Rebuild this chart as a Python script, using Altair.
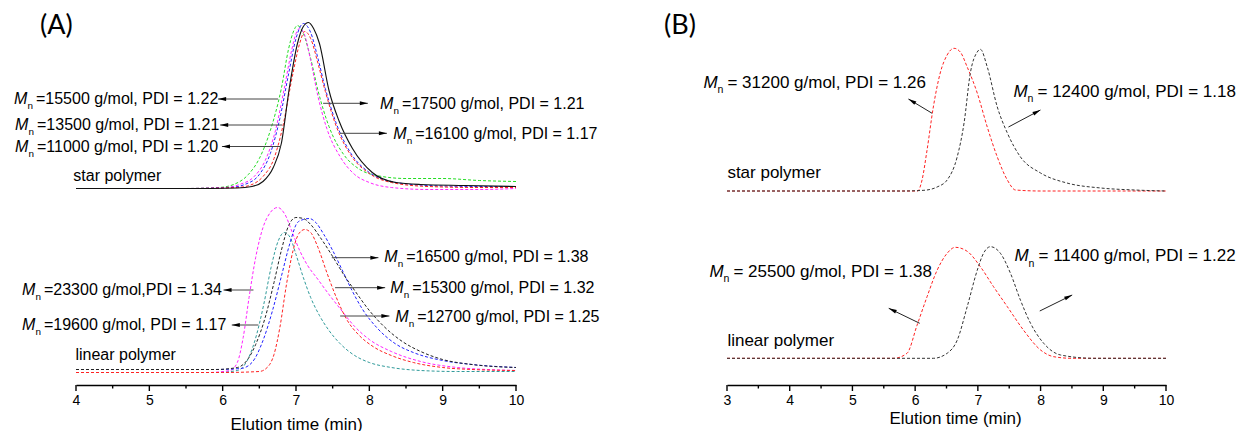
import math
import altair as alt
import pandas as pd

W, H = 1238, 431
AXIS_Y = 385          # pixel row of both x axes (y value 0 of the intensity scale)

# ---------------- Panel A : star polymers (intensity above baseline, a.u.) ----------------
A_STAR_BASE = 196.5
a_star_black_t = [4.0, 5.5, 6.2, 6.4, 6.55, 6.69, 6.8, 6.91, 7.02, 7.1, 7.17, 7.24, 7.32, 7.45, 7.59, 7.77, 8.04, 8.36, 8.7, 9.3, 10.0]
a_star_black_h = [0, 0, 0.5, 2, 7, 21, 45, 101, 145, 162, 166, 160, 145, 98, 67, 40, 16, 6, 4, 3, 2]
a_star_green_t = [4.0, 5.5, 5.95, 6.15, 6.35, 6.5, 6.65, 6.8, 6.9, 6.96, 7.02, 7.1, 7.2, 7.3, 7.45, 7.65, 7.85, 8.1, 8.5, 9.0, 9.5, 10.0]
a_star_green_h = [0, 0, 1, 4, 14, 30, 58, 100, 140, 156, 163, 155, 130, 98, 62, 34, 20, 13, 10, 10, 8, 7]
a_star_magenta_t = [4.0, 5.5, 6.03, 6.23, 6.43, 6.58, 6.72, 6.84, 6.94, 7.0, 7.05, 7.12, 7.2, 7.3, 7.42, 7.6, 7.8, 8.0, 8.3, 8.8, 9.5, 10.0]
a_star_magenta_h = [0, 0, 1, 4, 12, 28, 58, 100, 138, 155, 160, 153, 128, 92, 60, 32, 14, 6, 1, -1, -1, 0]
a_star_blue_t = [4.0, 5.5, 6.1, 6.3, 6.5, 6.65, 6.78, 6.9, 7.0, 7.1, 7.2, 7.3, 7.4, 7.55, 7.75, 8.0, 8.3, 8.8, 9.5, 10.0]
a_star_blue_h = [0, 0, 1, 4, 14, 35, 70, 115, 150, 165, 156, 130, 100, 65, 35, 16, 7, 3, 2, 2]
a_star_red_t = [4.0, 5.5, 6.2, 6.4, 6.55, 6.7, 6.82, 6.95, 7.05, 7.12, 7.2, 7.3, 7.4, 7.55, 7.75, 8.0, 8.3, 8.8, 9.5, 10.0]
a_star_red_h = [0, 0, 1, 4, 12, 30, 62, 112, 145, 157, 150, 125, 97, 62, 33, 15, 6, 2, 1, 1]

# ---------------- Panel A : linear polymers ----------------
A_LIN_BASE = 12.5
a_lin_magenta_t = [4.0, 5.8, 6.1, 6.2, 6.28, 6.36, 6.45, 6.55, 6.65, 6.75, 6.85, 6.95, 7.05, 7.15, 7.3, 7.45, 7.6, 7.8, 8.0, 8.3, 8.7, 9.2, 9.6, 10.0]
a_lin_magenta_h = [0, 0, 2, 10, 35, 75, 115, 145, 160, 165, 158, 140, 122, 108, 93, 78, 64, 46, 33, 21, 11, 5, 3, 2]
a_lin_black_t = [4.0, 5.9, 6.2, 6.35, 6.45, 6.58, 6.7, 6.8, 6.9, 7.0, 7.1, 7.2, 7.35, 7.5, 7.65, 7.8, 8.0, 8.2, 8.45, 8.7, 9.0, 9.4, 10.0]
a_lin_black_h = [3, 3, 5, 14, 28, 55, 90, 122, 147, 155, 154, 148, 133, 116, 98, 82, 62, 46, 31, 21, 13, 8, 5]
a_lin_blue_t = [4.0, 5.9, 6.25, 6.4, 6.55, 6.68, 6.8, 6.92, 7.02, 7.1, 7.18, 7.27, 7.38, 7.5, 7.62, 7.75, 7.9, 8.1, 8.35, 8.6, 9.0, 9.4, 10.0]
a_lin_blue_h = [3, 3, 4, 10, 32, 62, 96, 130, 150, 153, 154, 150, 138, 122, 104, 84, 64, 45, 29, 20, 12, 8, 5]
a_lin_teal_t = [4.0, 5.9, 6.2, 6.32, 6.44, 6.56, 6.66, 6.76, 6.84, 6.92, 7.0, 7.1, 7.2, 7.32, 7.45, 7.6, 7.8, 8.0, 8.3, 8.7, 9.2, 10.0]
a_lin_teal_h = [0, 0, 2, 10, 32, 68, 105, 132, 140, 135, 118, 95, 75, 57, 42, 29, 17, 10, 5, 2, 1, 1]
a_lin_red_t = [4.0, 6.0, 6.5, 6.62, 6.7, 6.78, 6.87, 6.96, 7.04, 7.12, 7.2, 7.3, 7.42, 7.55, 7.7, 7.85, 8.05, 8.3, 8.6, 9.0, 9.4, 10.0]
a_lin_red_h = [0, 0, 1, 6, 18, 45, 88, 122, 139, 143, 140, 125, 100, 75, 52, 38, 26, 17, 10, 5, 3, 2]

# ---------------- Panel B ----------------
B_STAR_BASE = 194
b_star_red_t = [3.0, 5.5, 6.04, 6.11, 6.19, 6.29, 6.4, 6.51, 6.62, 6.72, 6.83, 6.99, 7.15, 7.31, 7.47, 7.6, 8.0, 10.0]
b_star_red_h = [0, 0, 0, 11, 41, 84, 118, 136, 142.7, 139, 124, 98, 64, 34, 11, 1, 0, 0]
b_star_black_t = [3.0, 5.8, 6.14, 6.35, 6.51, 6.67, 6.78, 6.88, 6.99, 7.04, 7.15, 7.31, 7.47, 7.68, 8.0, 8.42, 8.96, 9.5, 10.0]
b_star_black_h = [0, 0, 0.7, 4, 11, 34, 68, 118, 139, 141.7, 124, 84, 58, 34, 18, 8, 3, 1, 0]
B_LIN_BASE = 26.7
b_lin_red_t = [3.0, 5.5, 5.66, 5.87, 6.03, 6.19, 6.35, 6.51, 6.64, 6.83, 7.04, 7.25, 7.47, 7.73, 8.0, 8.21, 8.5, 10.0]
b_lin_red_h = [0, 0, 0, 5, 33, 61.6, 88, 105, 111, 107, 91.6, 71.6, 51.6, 28, 8.3, 1.6, 0, 0]
b_lin_black_t = [3.0, 6.0, 6.29, 6.51, 6.67, 6.83, 6.99, 7.09, 7.2, 7.36, 7.52, 7.68, 7.84, 8.05, 8.32, 8.85, 10.0]
b_lin_black_h = [0, 0, 0, 5, 18, 51.6, 88, 105, 111.6, 105, 85, 58, 35, 15, 3.3, 0, 0]

# ---------------- axis ticks (major every 1 min, minor every 0.5 min) ----------------
a_major_ticks = [4, 5, 6, 7, 8, 9, 10]
a_minor_ticks = [4.5, 5.5, 6.5, 7.5, 8.5, 9.5]
b_major_ticks = [3, 4, 5, 6, 7, 8, 9, 10]
b_minor_ticks = [3.5, 4.5, 5.5, 6.5, 7.5, 8.5, 9.5]

# ---------------- annotations (M_n labels, arrows, captions) ----------------
a_lab_t = [3.154, 3.168, 3.168, 8.147, 8.325, 3.263, 3.263, 8.202, 8.284, 8.352]
a_lab_v = [286, 260, 238, 281.5, 251.5, 95, 60, 128.5, 97.5, 68.5]
a_lab_rest = ["=15500 g/mol, PDI = 1.22", "=13500 g/mol, PDI = 1.21", "=11000 g/mol, PDI = 1.20",
              "=17500 g/mol, PDI = 1.21", "=16100 g/mol, PDI = 1.17", "=23300 g/mol,PDI = 1.34",
              "=19600 g/mol, PDI = 1.17", "=16500 g/mol, PDI = 1.38", "=15300 g/mol, PDI = 1.32",
              "=12700 g/mol, PDI = 1.25"]
a_arr_t1 = [6.756, 6.81, 6.793, 7.37, 7.60, 6.42, 6.487, 7.488, 7.533, 7.602]
a_arr_t2 = [5.937, 5.965, 5.99, 7.98, 8.24, 6.011, 6.124, 8.124, 8.216, 8.274]
a_arr_v1 = [286, 260, 238.5, 281.7, 251.7, 95, 60, 127.3, 97.3, 69]
a_arr_v2 = a_arr_v1

b_lab_t = [2.624, 7.568, 2.719, 7.584]
b_lab_v = [302.3, 293.3, 113.3, 129]
b_lab_rest = ["= 31200 g/mol, PDI = 1.26", "= 12400 g/mol, PDI = 1.18",
              "= 25500 g/mol, PDI = 1.38", "= 11400 g/mol, PDI = 1.22"]
b_arr_t1 = [6.271, 7.488, 6.073, 7.987]
b_arr_t2 = [5.893, 7.998, 5.579, 8.504]
b_arr_v1 = [271.7, 258, 61.7, 74]
b_arr_v2 = [286, 275, 76.7, 90]

a_cap_t = [3.963, 3.992, 3.51]
a_cap_v = [209, 30, 359]
a_cap_text = ["star polymer", "linear polymer", "(A)"]
b_cap_t = [3.006, 3.006, 1.997]
b_cap_v = [211.7, 44.3, 359]
b_cap_text = ["star polymer", "linear polymer", "(B)"]

A_DOMAIN, A_RANGE = [4, 10], [76, 516]
B_DOMAIN, B_RANGE = [3, 10], [727, 1166]

FONT = "Liberation Sans"
ARROW = "M0,0L0.42,1.7L-0.42,1.7Z"
MAJOR_LEN, MINOR_LEN = 6, 3.5


def curves(spec):
    rows = []
    for cid, ts, hs, base, color in spec:
        for t, h in zip(ts, hs):
            rows.append(dict(id=cid, t=t, v=base + h, color=color))
    return pd.DataFrame(rows)


def arrows(t1, t2, v1, v2, ppu):
    lines, heads = [], []
    for a, b, c, d in zip(t1, t2, v1, v2):
        dx = (b - a) * ppu
        dy = -(d - c)
        ang = math.degrees(math.atan2(dx, -dy)) % 360
        lines.append(dict(t=a, t2=b, v=c, v2=d))
        heads.append(dict(t=b, v=d, ang=ang))
    return pd.DataFrame(lines), pd.DataFrame(heads)


def tick_df(major, minor):
    rows = [dict(t=float(t), v=0.0, vend=-MAJOR_LEN) for t in major]
    rows += [dict(t=float(t), v=0.0, vend=-MINOR_LEN) for t in minor]
    return pd.DataFrame(rows)


def panel(dashed_df, solid_df, lab_df, arr, cap_df, ticks_df, domain, rng, fsize, rest_dx, n_dx,
          title_pad, title_x, arrow_color):
    arr_lines, arr_heads = arr
    axis_kw = dict(
        values=sorted(ticks_df.t.tolist()), orient="bottom", offset=AXIS_Y - H,
        ticks=True, tickSize=MAJOR_LEN, tickOpacity=0,
        labelExpr="datum.value % 1 === 0 ? format(datum.value, 'd') : ''",
        domainColor="black", domainWidth=1.5,
        labelFont=FONT, labelFontSize=14, labelColor="black", labelPadding=2,
        labelFlush=False, labelOverlap=False, grid=False,
        title="Elution time (min)", titleFont=FONT, titleFontSize=17,
        titleFontWeight="normal", titleColor="black", titlePadding=title_pad,
    )
    if title_x is not None:
        axis_kw["titleX"] = title_x
    xs = alt.Scale(domain=domain, range=rng, nice=False, zero=False)
    ys = alt.Scale(domain=[AXIS_Y - H, AXIS_Y], nice=False, zero=False)
    x = alt.X("t:Q", scale=xs, axis=alt.Axis(**axis_kw))
    y = alt.Y("v:Q", scale=ys, axis=None)

    layers = [
        alt.Chart(dashed_df).mark_line(strokeWidth=1, strokeDash=[3, 2], interpolate="monotone").encode(
            x=x, y=y, color=alt.Color("color:N", scale=None), detail="id:N"),
    ]
    if solid_df is not None:
        layers.append(alt.Chart(solid_df).mark_line(strokeWidth=1.1, interpolate="monotone").encode(
            x=x, y=y, color=alt.Color("color:N", scale=None), detail="id:N"))
    layers += [
        alt.Chart(ticks_df).mark_rule(strokeWidth=1.4, color="black").encode(
            x=x, y=y, y2=alt.Y2("vend:Q")),
        alt.Chart(arr_lines).mark_rule(strokeWidth=1, color=arrow_color).encode(
            x=x, x2="t2:Q", y=y, y2="v2:Q"),
        alt.Chart(arr_heads).mark_point(shape=ARROW, filled=True, size=90, color="black", opacity=1).encode(
            x=x, y=y, angle=alt.Angle("ang:Q", scale=None)),
        alt.Chart(lab_df).mark_text(font=FONT, fontSize=fsize, fontStyle="italic", align="left",
                                    baseline="middle", color="black").encode(
            x=x, y=y, text=alt.value("M")),
        alt.Chart(lab_df).mark_text(font=FONT, fontSize=fsize * 0.62, align="left", baseline="middle",
                                    dx=n_dx, dy=fsize * 0.45, color="black").encode(
            x=x, y=y, text=alt.value("n")),
        alt.Chart(lab_df).mark_text(font=FONT, fontSize=fsize, align="left", baseline="middle",
                                    dx=rest_dx, color="black").encode(
            x=x, y=y, text="rest:N"),
        alt.Chart(cap_df[cap_df.kind == "cap"]).mark_text(font=FONT, fontSize=fsize, align="left",
                                                          baseline="middle", color="black").encode(
            x=x, y=y, text="text:N"),
        alt.Chart(cap_df[cap_df.kind == "panel"]).mark_text(font="Lato", fontSize=27, align="left",
                                                            baseline="middle", color="black").encode(
            x=x, y=y, text="text:N"),
    ]
    return alt.layer(*layers)


a_dashed = curves([
    ("a_star_green", a_star_green_t, a_star_green_h, A_STAR_BASE, "#22dd22"),
    ("a_star_magenta", a_star_magenta_t, a_star_magenta_h, A_STAR_BASE, "#ff22ff"),
    ("a_star_blue", a_star_blue_t, a_star_blue_h, A_STAR_BASE, "#2222ff"),
    ("a_star_red", a_star_red_t, a_star_red_h, A_STAR_BASE, "#ff2222"),
    ("a_lin_teal", a_lin_teal_t, a_lin_teal_h, A_LIN_BASE, "#2f9a9a"),
    ("a_lin_magenta", a_lin_magenta_t, a_lin_magenta_h, A_LIN_BASE, "#ff22ff"),
    ("a_lin_blue", a_lin_blue_t, a_lin_blue_h, A_LIN_BASE, "#2222ff"),
    ("a_lin_black", a_lin_black_t, a_lin_black_h, A_LIN_BASE, "#222222"),
    ("a_lin_red", a_lin_red_t, a_lin_red_h, A_LIN_BASE, "#ff2222"),
])
a_solid = curves([("a_star_black", a_star_black_t, a_star_black_h, A_STAR_BASE, "#111111")])
b_dashed = curves([
    ("b_star_red", b_star_red_t, b_star_red_h, B_STAR_BASE, "#ff2222"),
    ("b_star_black", b_star_black_t, b_star_black_h, B_STAR_BASE, "#333333"),
    ("b_lin_red", b_lin_red_t, b_lin_red_h, B_LIN_BASE, "#ff2222"),
    ("b_lin_black", b_lin_black_t, b_lin_black_h, B_LIN_BASE, "#333333"),
])

a_lab = pd.DataFrame(dict(t=a_lab_t, v=a_lab_v, rest=a_lab_rest))
b_lab = pd.DataFrame(dict(t=b_lab_t, v=b_lab_v, rest=b_lab_rest))
a_arr = arrows(a_arr_t1, a_arr_t2, a_arr_v1, a_arr_v2, (A_RANGE[1] - A_RANGE[0]) / (A_DOMAIN[1] - A_DOMAIN[0]))
b_arr = arrows(b_arr_t1, b_arr_t2, b_arr_v1, b_arr_v2, (B_RANGE[1] - B_RANGE[0]) / (B_DOMAIN[1] - B_DOMAIN[0]))
a_cap = pd.DataFrame(dict(t=a_cap_t, v=a_cap_v, text=a_cap_text, kind=["cap", "cap", "panel"]))
b_cap = pd.DataFrame(dict(t=b_cap_t, v=b_cap_v, text=b_cap_text, kind=["cap", "cap", "panel"]))

panel_a = panel(a_dashed, a_solid, a_lab, a_arr, a_cap, tick_df(a_major_ticks, a_minor_ticks),
                A_DOMAIN, A_RANGE, 16, 22, 13.5, 9, None, "#444444")
panel_b = panel(b_dashed, None, b_lab, b_arr, b_cap, tick_df(b_major_ticks, b_minor_ticks),
                B_DOMAIN, B_RANGE, 17, 24, 14, 3, 955, "#222222")

chart = alt.layer(panel_a, panel_b).resolve_scale(x="independent").properties(
    width=W, height=H, autosize=alt.AutoSizeParams(type="none"), padding=0,
    background="white",
).configure_view(strokeWidth=0)

chart.save("out.html", embed_options={"renderer": "svg", "actions": False})
